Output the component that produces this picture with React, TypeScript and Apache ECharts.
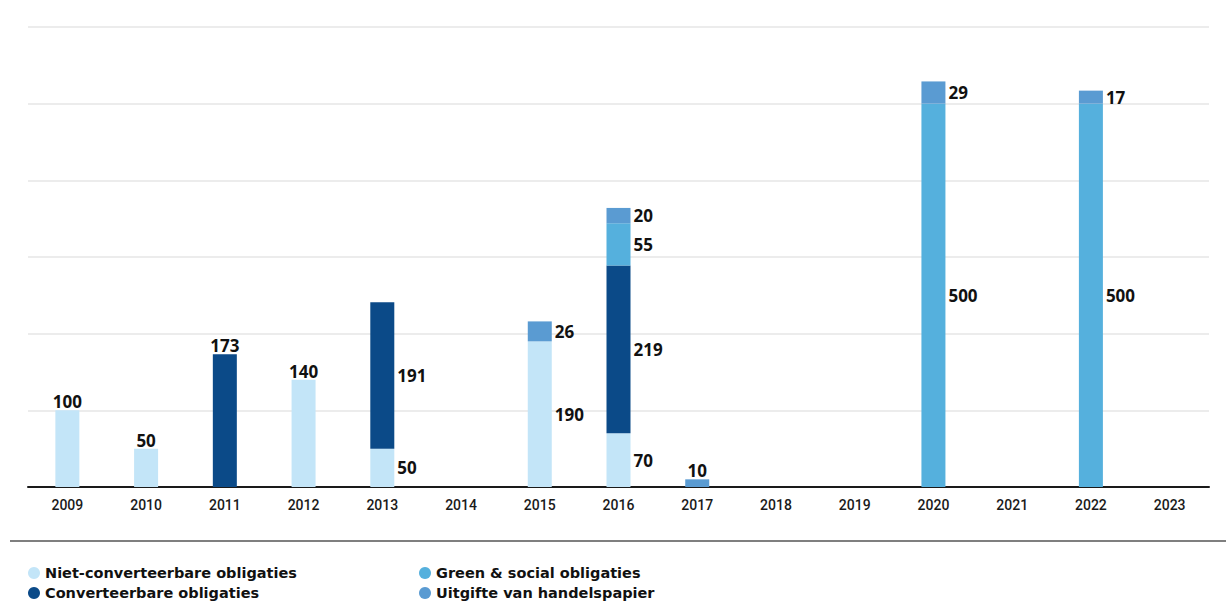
import React, { useEffect, useRef } from "react";
import * as echarts from "echarts";

const years = ["2009", "2010", "2011", "2012", "2013", "2014", "2015", "2016", "2017", "2018", "2019", "2020", "2021", "2022", "2023"];
const nietConverteerbaar = [100, 50, null, 140, 50, null, 190, 70, null, null, null, null, null, null, null];
const converteerbaar = [null, null, 173, null, 191, null, null, 219, null, null, null, null, null, null, null];
const greenSocial = [null, null, null, null, null, null, null, 55, null, null, null, 500, null, 500, null];
const handelspapier = [null, null, null, null, null, null, 26, 20, 10, null, null, 29, null, 17, null];

const seriesDefs = [
  { name: "Niet-converteerbare obligaties", data: nietConverteerbaar, color: "#c3e5f8" },
  { name: "Converteerbare obligaties", data: converteerbaar, color: "#0b4a88" },
  { name: "Green & social obligaties", data: greenSocial, color: "#55b0dd" },
  { name: "Uitgifte van handelspapier", data: handelspapier, color: "#5a9bd2" },
];

const FONT = "Open Sans";

export default function App() {
  const ref = useRef<HTMLDivElement>(null);
  useEffect(() => {
    if (!ref.current) return;
    const chart = echarts.init(ref.current, null, { renderer: "svg" });
    const segCount = years.map((_, i) => seriesDefs.filter((s) => s.data[i] != null).length);
    const labelStyle = {
      show: true,
      color: "#111",
      fontFamily: FONT,
      fontWeight: 700,
      fontSize: 17,
      formatter: (p: any) => String(p.value),
    };
    const series = seriesDefs.map((s) => ({
      name: s.name,
      type: "bar",
      stack: "total",
      barWidth: 24,
      itemStyle: { color: s.color },
      data: s.data.map((v, i) =>
        v == null
          ? null
          : {
              value: v,
              label:
                segCount[i] > 1
                  ? { ...labelStyle, position: "right", distance: 3 }
                  : { ...labelStyle, position: "top", distance: 0 },
            }
      ),
    }));
    const legendBase = {
      orient: "vertical",
      top: 564,
      height: 43,
      padding: 0,
      itemWidth: 12,
      itemHeight: 12,
      itemGap: 2,
      icon: "circle",
      selectedMode: false,
      textStyle: { fontFamily: "DejaVu Sans", fontSize: 14.5, fontWeight: "bold", color: "#111", lineHeight: 18 },
    };
    chart.setOption({
      animation: false,
      grid: { left: 28, right: 17, top: 27, bottom: 120, containLabel: false },
      legend: [
        { ...legendBase, data: [seriesDefs[0].name, seriesDefs[1].name], left: 28 },
        { ...legendBase, data: [seriesDefs[2].name, seriesDefs[3].name], left: 419 },
      ],
      xAxis: {
        type: "category",
        data: years,
        axisLine: { lineStyle: { color: "#1a1a1a", width: 2 } },
        axisTick: { show: false },
        axisLabel: { color: "#1a1a1a", fontFamily: "Roboto", fontSize: 14, fontWeight: 500, margin: 11 },
      },
      yAxis: {
        type: "value",
        min: 0,
        max: 600,
        interval: 100,
        axisLabel: { show: false },
        axisLine: { show: false },
        axisTick: { show: false },
        splitLine: { lineStyle: { color: "#e6e6e6", width: 1.5 } },
      },
      graphic: [
        {
          type: "line",
          shape: { x1: 10, y1: 541, x2: 1226, y2: 541 },
          style: { stroke: "#555", lineWidth: 1.5 },
        },
      ],
      series,
    });
    return () => chart.dispose();
  }, []);
  return (
    <div
      ref={ref}
      style={{ position: "fixed", left: 0, top: 0, width: 1226, height: 607, background: "#fff" }}
    />
  );
}
